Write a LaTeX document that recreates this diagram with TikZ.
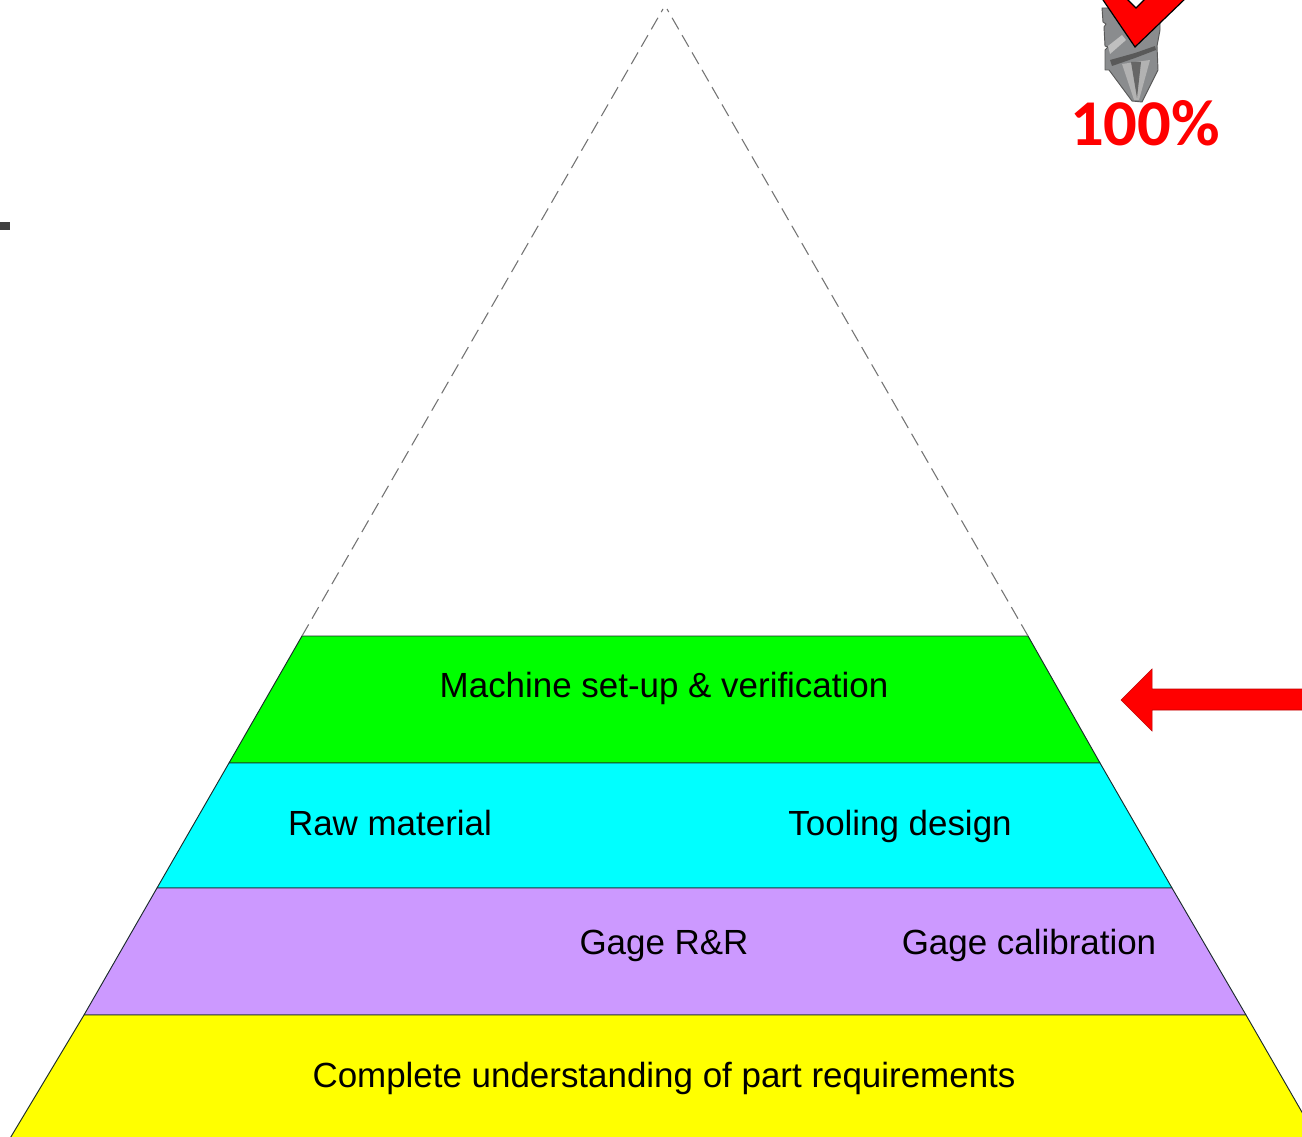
\documentclass[tikz,border=0pt]{standalone}
\usepackage{fontspec}
\setmainfont{Liberation Sans}
\newfontfamily\pctfont[FakeStretch=1.02]{Carlito}
\definecolor{bandgreen}{HTML}{00FF00}
\definecolor{bandcyan}{HTML}{00FFFF}
\definecolor{bandpurple}{HTML}{CC99FF}
\definecolor{bandyellow}{HTML}{FFFF00}
\definecolor{edgeline}{HTML}{1A2A2A}
\definecolor{bitgrey}{HTML}{8A8C8E}
\tikzset{
  band/.style={draw=edgeline,line width=0.7pt,line join=round},
  dashedge/.style={draw=black!55,line width=0.8pt,dash pattern=on 10pt off 5pt},
  lab/.style={font=\fontsize{26.2}{30}\selectfont,text=black,inner sep=0pt,anchor=base},
}
\begin{document}
\begin{tikzpicture}[x=0.75pt,y=-0.75pt]
\useasboundingbox (0,0) rectangle (1302,1137);
\clip (0,0) rectangle (1302,1137);
\fill[white] (0,0) rectangle (1302,1137);
% guide coordinates
\coordinate (apexL) at (663,9);
\coordinate (apexR) at (667,9);
\coordinate (dashL) at (302,636);
\coordinate (dashR) at (1028,636);
% bands
\path[band,fill=bandgreen] (302,636) -- (1028,636) -- (1100,763) -- (229,763) -- cycle;
\path[band,fill=bandcyan] (229,763) -- (1100,763) -- (1172,888) -- (157,888) -- cycle;
\path[band,fill=bandpurple] (157,888) -- (1172,888) -- (1246,1015) -- (84,1015) -- cycle;
\path[band,fill=bandyellow] (84,1015) -- (1246,1015) -- (1318,1140) -- (9,1140) -- cycle;
% dashed top of the pyramid
\draw[dashedge] (dashL) -- (apexL);
\draw[dashedge] (dashR) -- (apexR);
% labels
\node[lab] (setup) at (664,697) {Machine set-up \& verification};
\node[lab] (raw) at (390,835) {Raw material};
\node[lab] (tool) at (900,835) {Tooling design};
\node[lab] (rr) at (664,954) {Gage R\&R};
\node[lab] (cal) at (1029,954) {Gage calibration};
\node[lab] (req) at (664,1087) {Complete understanding of part requirements};
% red arrow
\path[fill=red,draw=red!75!black,line width=0.4pt] (1302,689) -- (1152,689) -- (1152,669) -- (1121,700) -- (1152,731) -- (1152,710) -- (1302,710);
% dark mark at the left
\fill[black!75] (0,222) rectangle (10,230);
% drill bit
\path[fill=bitgrey,draw=black!65,line width=0.7pt,line join=round]
  (1102,8) -- (1103,22) -- (1106,24) -- (1104,27) -- (1105,46) -- (1108,47) -- (1105,50) -- (1105,70)
  -- (1109,70) -- (1132,101) -- (1142,102) -- (1158,70) -- (1157,46) -- (1160,30) -- (1160,8) -- cycle;
\fill[black!25] (1108,46) -- (1122,35) -- (1126,40) -- (1110,54) -- cycle;
\fill[black!65] (1110,60) -- (1135,53) -- (1155,46) -- (1156,50) -- (1135,58) -- (1112,66) -- cycle;
\fill[black!30] (1122,64) -- (1150,60) -- (1139,100) -- (1134,100) -- cycle;
\fill[black!60] (1131,62) -- (1141,62) -- (1137,98) -- cycle;
% check mark
\path[fill=red,draw=black,line width=0.9pt,line join=miter]
  (1101,-3) -- (1135,47) -- (1187,-3) -- (1147,-3) -- (1136,8) -- (1125,-3) -- cycle;
% 100%
\node[inner sep=0pt,anchor=base,text=red,font={\pctfont\bfseries\fontsize{49}{55}\selectfont}] (pct) at (1145,146) {100\%};
\end{tikzpicture}
\end{document}
